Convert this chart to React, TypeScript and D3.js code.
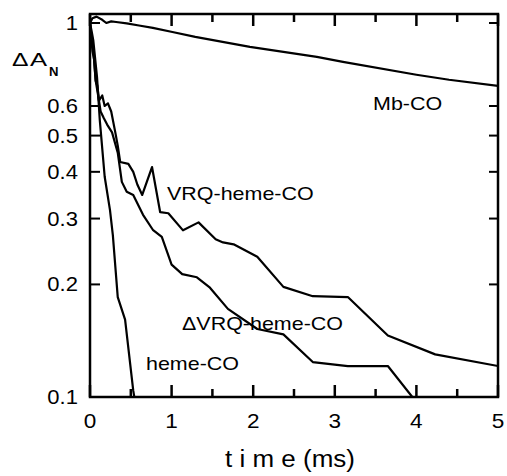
import React from "react";
import * as d3 from "d3";

// ---- data ----
const mbT = [0, 0.03, 0.08, 0.15, 0.2, 0.26, 0.32, 0.45, 0.6, 0.77, 1.01, 1.29, 1.96, 2.78, 3.1, 4.0, 4.4, 5.0];
const mbV = [1.0, 1.03, 1.04, 1.02, 1.0, 1.01, 1.006, 0.998, 0.985, 0.97, 0.946, 0.918, 0.863, 0.812, 0.787, 0.727, 0.705, 0.679];

const vrqT = [0, 0.01, 0.03, 0.05, 0.07, 0.09, 0.11, 0.15, 0.18, 0.22, 0.26, 0.31, 0.34, 0.37, 0.47, 0.53, 0.58, 0.64, 0.76, 0.86, 0.96, 1.14, 1.33, 1.54, 1.63, 1.76, 2.05, 2.37, 2.73, 3.16, 3.65, 4.23, 5.0];
const vrqV = [1.0, 0.95, 0.84, 0.8, 0.7, 0.68, 0.62, 0.64, 0.6, 0.61, 0.58, 0.51, 0.47, 0.425, 0.42, 0.4, 0.37, 0.347, 0.412, 0.312, 0.31, 0.279, 0.293, 0.264, 0.259, 0.256, 0.237, 0.197, 0.186, 0.185, 0.146, 0.13, 0.121];

const dvrqT = [0, 0.02, 0.04, 0.07, 0.1, 0.13, 0.17, 0.21, 0.27, 0.34, 0.39, 0.45, 0.53, 0.65, 0.77, 0.88, 1.0, 1.13, 1.31, 1.47, 1.69, 2.05, 2.37, 2.73, 3.16, 3.65, 3.95];
const dvrqV = [1.0, 0.9, 0.85, 0.7, 0.64, 0.58, 0.556, 0.535, 0.51, 0.45, 0.376, 0.354, 0.347, 0.307, 0.28, 0.268, 0.226, 0.213, 0.209, 0.196, 0.172, 0.152, 0.147, 0.124, 0.121, 0.121, 0.1];

const hemeT = [0, 0.02, 0.04, 0.086, 0.12, 0.18, 0.245, 0.28, 0.34, 0.43, 0.53, 0.56];
const hemeV = [1.0, 0.95, 0.9, 0.717, 0.55, 0.388, 0.316, 0.271, 0.185, 0.161, 0.104, 0.095];

const xTickLabels = [0, 1, 2, 3, 4, 5];
const xMinorTicks = [0.5, 1.5, 2.5, 3.5, 4.5];
const yTickValues = [0.1, 0.2, 0.3, 0.4, 0.5, 0.6, 1];
const yTickLabels = ["0.1", "0.2", "0.3", "0.4", "0.5", "0.6", "1"];

const seriesLabels = ["Mb-CO", "VRQ-heme-CO", "\u0394VRQ-heme-CO", "heme-CO"];

export default function App() {
  const L = 90, R = 498, T = 14, B = 397;
  const x = d3.scaleLinear().domain([0, 5]).range([L, R]);
  const y = d3.scaleLog().domain([0.1, 1.057]).range([B, T]);
  const line = d3
    .line<[number, number]>()
    .x((d) => x(d[0]))
    .y((d) => y(d[1]));
  const mk = (ts: number[], vs: number[]) => ts.map((t, i) => [t, vs[i]] as [number, number]);
  const series = [mk(mbT, mbV), mk(vrqT, vrqV), mk(dvrqT, dvrqV), mk(hemeT, hemeV)];

  const font = "'Liberation Sans', Arial, Helvetica, sans-serif";
  const sx = 1.13;
  const labelPos: [number, number][] = [
    [373, 110],
    [167, 200],
    [182, 330],
    [146, 370],
  ];

  return (
    <div style={{ position: "absolute", left: 0, top: 0 }}>
      <svg width={507} height={476} style={{ display: "block", background: "#fff" }} fontFamily={font}>
        <defs>
          <clipPath id="plot">
            <rect x={L} y={T} width={R - L} height={B - T} />
          </clipPath>
        </defs>
        <g clipPath="url(#plot)">
          {series.map((s, i) => (
            <path key={i} d={line(s) || ""} fill="none" stroke="#000" strokeWidth={2.2} strokeLinejoin="round" />
          ))}
        </g>
        {/* frame */}
        <rect x={L} y={T} width={R - L} height={B - T} fill="none" stroke="#000" strokeWidth={2.5} />
        {/* x ticks */}
        {xTickLabels.concat(xMinorTicks).map((t) => {
          const major = Number.isInteger(t);
          const len = major ? 12 : 8;
          const xp = x(t);
          return (
            <g key={"xt" + t}>
              <line x1={xp} x2={xp} y1={B} y2={B - len} stroke="#000" strokeWidth={2.5} />
              <line x1={xp} x2={xp} y1={T} y2={T + len} stroke="#000" strokeWidth={2.5} />
            </g>
          );
        })}
        {/* y ticks */}
        {yTickValues.map((v) => {
          const yp = y(v);
          return (
            <g key={"yt" + v}>
              <line x1={L} x2={L + 10} y1={yp} y2={yp} stroke="#000" strokeWidth={2} />
              <line x1={R} x2={R - 9} y1={yp} y2={yp} stroke="#000" strokeWidth={2} />
            </g>
          );
        })}
        {/* y tick labels */}
        {yTickValues.map((v, i) => (
          <text
            key={"yl" + v}
            transform={`translate(78,${y(v)}) scale(${sx},1)`}
            textAnchor="end"
            dy="0.36em"
            fontSize={19.5}
          >
            {yTickLabels[i]}
          </text>
        ))}
        {/* x tick labels */}
        {xTickLabels.map((t) => (
          <text key={"xl" + t} transform={`translate(${x(t)},428) scale(${sx},1)`} textAnchor="middle" fontSize={20}>
            {t}
          </text>
        ))}
        {/* axis titles */}
        <text transform={`translate(290,467) scale(${sx},1)`} textAnchor="middle" fontSize={23}>
          t i m e (ms)
        </text>
        <text transform={`translate(12,66) scale(1.3,1)`} fontSize={19}>
          {"\u0394"}
        </text>
        <text transform={`translate(30,66) scale(1.35,1)`} fontSize={19}>
          A
        </text>
        <text transform={`translate(49,76) scale(1.05,1)`} fontSize={12.5} fontWeight="bold">
          N
        </text>
        {/* series labels */}
        {seriesLabels.map((s, i) => (
          <text key={s} transform={`translate(${labelPos[i][0]},${labelPos[i][1]}) scale(${sx},1)`} fontSize={19}>
            {s}
          </text>
        ))}
      </svg>
    </div>
  );
}
